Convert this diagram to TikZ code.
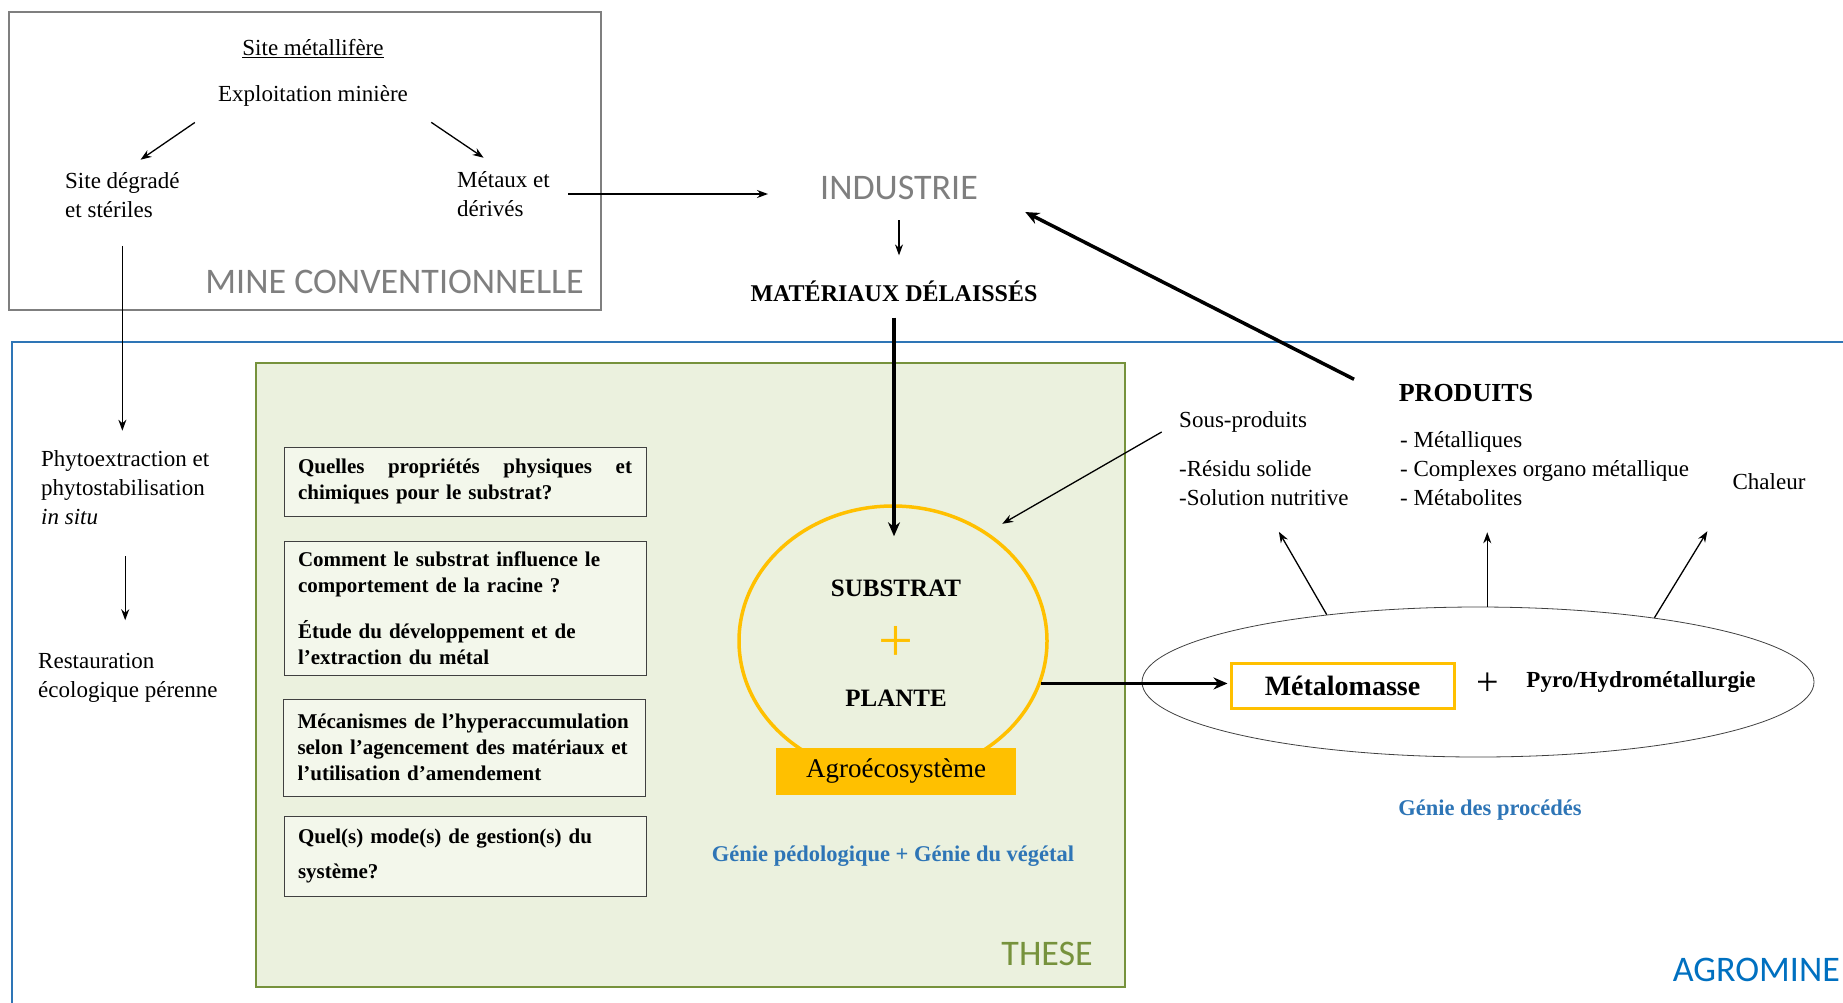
\documentclass[tikz,border=0pt]{standalone}
\usepackage{fontspec}
\setmainfont{Liberation Serif}
\newfontfamily\calibrifont{Carlito}
\usepackage{tikz}
\usetikzlibrary{arrows.meta,positioning,shapes.geometric}
\definecolor{minegray}{RGB}{127,127,127}
\definecolor{agroblue}{RGB}{46,117,182}
\definecolor{titleblue}{RGB}{0,112,192}
\definecolor{thesegreen}{RGB}{118,146,60}
\definecolor{thesefill}{RGB}{235,241,222}
\definecolor{gold}{RGB}{255,192,0}

\begin{document}
\begin{tikzpicture}[
    x=1pt, y=-1pt,
    txt/.style={inner sep=0pt, align=left, font=\fontsize{23}{29}\selectfont},
    big/.style={inner sep=0pt, align=center, font=\fontsize{25}{29}\selectfont\bfseries},
    frametitle/.style={inner sep=0pt, font=\calibrifont\fontsize{36}{40}\selectfont},
    question/.style={draw=black!75, line width=1pt, fill=thesefill!60, inner xsep=14pt, inner ysep=4pt,
        text width=334pt, align=left, minimum height=#1, font=\fontsize{21}{26}\selectfont\bfseries},
    genie/.style={inner sep=0pt, text=agroblue, font=\fontsize{22.5}{26}\selectfont\bfseries},
    arr/.style={-{Stealth[length=11pt,width=8pt]}, line width=1.3pt},
    thickarr/.style={-{Stealth[length=14pt,width=12pt]}, line width=3.5pt}
]
    \useasboundingbox (0,0) rectangle (1843,1002);

    % Frames
    \draw[agroblue, line width=2pt] (1860,342) -- (12,342) -- (12,1020);
    \draw[thesegreen, fill=thesefill, line width=2.5pt] (256,363) rectangle (1125,987);
    \draw[minegray, line width=2.5pt] (9,12) rectangle (601,310);

    % Conventional mine
    \node[txt] (site) at (313,49) {\underline{Site métallifère}};
    \node[txt] (exploit) at (313,96) {Exploitation minière};
    \node[txt, anchor=west] (degrade) at (65,195) {Site dégradé\\et stériles};
    \node[txt, anchor=west] (metaux) at (457,194) {Métaux et\\dérivés};
    \node[frametitle, text=minegray, anchor=east] (mineconv) at (584,282) {MINE CONVENTIONNELLE};

    % Industry
    \node[frametitle, text=minegray] (industrie) at (899,188) {INDUSTRIE};
    \node[big, font=\fontsize{24}{28}\selectfont\bfseries] (materiaux) at (894,291) {MATÉRIAUX DÉLAISSÉS};

    % Left column
    \node[txt, anchor=west] (phyto) at (41,488) {Phytoextraction et\\phytostabilisation\\\textit{in situ}};
    \node[txt, anchor=west] (restau) at (38,678) {Restauration\\écologique pérenne};

    % Questions
    \node[question=69pt] (q1) at (465,481.5) {\hbox to\hsize{Quelles\hfill propriétés\hfill physiques\hfill et}\\chimiques pour le substrat?};
    \node[question=134pt] (q2) at (465,608) {Comment le substrat influence le\\comportement de la racine ?\\[20pt]Étude du développement et de\\l’extraction du métal};
    \node[question=97pt] (q3) at (464.5,747.5) {Mécanismes de l’hyperaccumulation\\selon l’agencement des matériaux et\\l’utilisation d’amendement};
    \node[question=80pt] (q4) at (465,856) {Quel(s) mode(s) de gestion(s) du\\[9pt]système?};

    % Substrate and plant
    \node[ellipse, draw=gold, line width=3.5pt, minimum width=308pt, minimum height=270pt] (sp) at (893,641) {};
    \node[big] (substrat) at (896,588) {SUBSTRAT};
    \node[inner sep=0pt, text=gold, font=\fontsize{62}{62}\selectfont] (plus1) at (896,644) {+};
    \node[big] (plante) at (896,698) {PLANTE};
    \node[fill=gold, minimum width=240pt, minimum height=47pt, inner sep=0pt, font=\fontsize{27}{30}\selectfont] (agro) at (896,771) {Agroécosystème};
    \node[genie] (geniepedo) at (893,856) {Génie pédologique + Génie du végétal};
    \node[frametitle, text=thesegreen, anchor=east] (these) at (1093,954) {THESE};

    % Processes
    \node[ellipse, draw=black!75, line width=0.8pt, minimum width=672pt, minimum height=150pt] (process) at (1478,682) {};
    \node[draw=gold, line width=3pt, minimum width=223pt, minimum height=45pt, inner sep=0pt,
        font=\fontsize{28}{30}\selectfont\bfseries] (metalo) at (1342.5,685.5) {Métalomasse};
    \node[inner sep=0pt, font=\fontsize{40}{40}\selectfont] (plus2) at (1488,684) {+};
    \node[big, font=\fontsize{23}{26}\selectfont\bfseries] (pyro) at (1641,682) {Pyro/Hydrométallurgie};
    \node[genie] (genieproc) at (1490,810) {Génie des procédés};
    \node[frametitle, text=titleblue, anchor=east] (agromine) at (1840,970) {AGROMINE};

    % Products
    \node[big, font=\fontsize{26}{30}\selectfont\bfseries] (produits) at (1466,393) {PRODUITS};
    \node[txt, anchor=west] (prodlist) at (1400,469) {- Métalliques\\- Complexes organo métallique\\- Métabolites};
    \node[txt, anchor=west] (sousprod) at (1179,422) {Sous-produits};
    \node[txt, anchor=west] (resid) at (1179,483) {-Résidu solide\\-Solution nutritive};
    \node[txt] (chaleur) at (1769,482) {Chaleur};

    % Mine relationships
    \draw[arr, shorten <=28pt, shorten >=22pt] (exploit.south west) -- (degrade.north);
    \draw[arr, shorten <=28pt, shorten >=24pt] (exploit.south east) -- (metaux.north);
    \draw[arr, shorten <=18pt, shorten >=52pt] (metaux.east) -- (metaux.east -| industrie.west);
    \draw[arr, shorten <=20pt, shorten >=25pt] (industrie.south) -- (industrie.south |- materiaux.north);
    \draw[arr, shorten <=28pt, shorten >=20pt] (degrade.south) -- (degrade.south |- phyto.north);
    \draw[arr, shorten <=31pt, shorten >=33pt] (phyto.south) -- (phyto.south |- restau.north);

    % Agromine relationships
    \draw[thickarr, shorten <=16pt, shorten >=-32pt] (materiaux.south) -- (materiaux.south |- sp.north);
    \draw[thickarr, shorten >=2pt] (sp.-16) -- (sp.-16 -| metalo.west);
    \draw[thickarr, shorten <=50pt, shorten >=53pt] (produits.south west) -- (industrie.east);
    \draw[arr, shorten <=20pt, shorten >=17pt] (sousprod.west) -- (sp.49);
    \draw[arr, shorten >=30pt] (process.156) -- (resid.south);
    \draw[arr, shorten >=26pt] (process.83) -- (process.83 |- prodlist.south);
    \draw[arr, shorten >=48pt] (process.20) -- (chaleur.south west);
\end{tikzpicture}
\end{document}
